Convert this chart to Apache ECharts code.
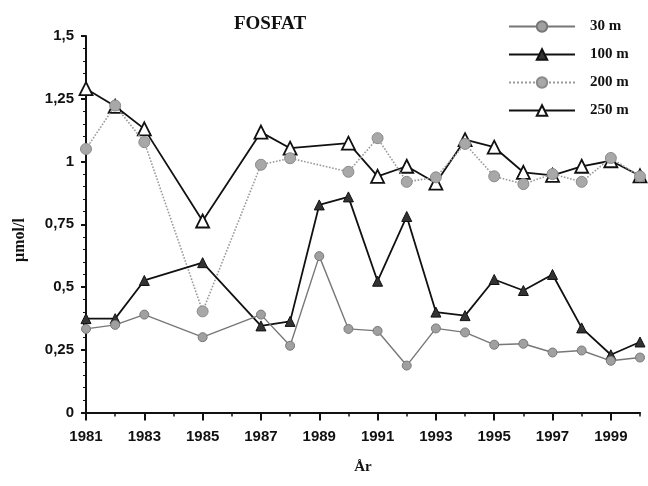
<!DOCTYPE html>
<html><head><meta charset="utf-8">
<script src="https://cdn.jsdelivr.net/npm/echarts@6/dist/echarts.min.js"></script>
<style>html,body{margin:0;padding:0;background:#fff}#c{width:648px;height:486px}</style>
</head><body><div id="c"></div>
<script>
const years = ['1981','1982','1983','1984','1985','1986','1987','1988','1989','1990','1991','1992','1993','1994','1995','1996','1997','1998','1999','2000'];
const yTickLabels = {0:'0',0.25:'0,25',0.5:'0,5',0.75:'0,75',1:'1',1.25:'1,25',1.5:'1,5'};
const s30  = [0.333,0.349,0.39,null,0.30,null,0.39,0.266,0.623,0.333,0.325,0.187,0.335,0.319,0.27,0.274,0.239,0.247,0.206,0.219];
const s100 = [0.374,0.374,0.526,null,0.597,null,0.345,0.363,0.827,0.859,0.523,0.781,0.40,0.386,0.53,0.486,0.55,0.337,0.23,0.281];
const s200 = [1.05,1.223,1.077,null,0.403,null,0.987,1.013,null,0.959,1.093,0.919,0.937,1.07,0.941,0.91,0.95,0.919,1.014,0.941];
const s250 = [1.29,1.22,1.13,null,0.763,null,1.117,1.053,null,1.073,0.941,0.981,0.914,1.087,1.057,0.957,0.945,0.981,1.003,0.943];
const names = ['30 m','100 m','200 m','250 m'];

const chart = echarts.init(document.getElementById('c'));
const lblFont = {fontFamily:'Liberation Sans, Arial', fontWeight:'bold', fontSize:15, color:'#111'};
chart.setOption({
  animation:false,
  title:{text:'FOSFAT', left:265, top:10, textAlign:'center',
    textStyle:{fontFamily:'Liberation Serif, Times New Roman', fontWeight:'bold', fontSize:19, color:'#111'}},
  legend:{
    orient:'vertical', left:503, top:14, itemGap:13, itemWidth:66, itemHeight:13,
    data:names,
    textStyle:{fontFamily:'Liberation Serif, Times New Roman', fontWeight:'bold', fontSize:15, color:'#111', padding:[0,0,0,10]}
  },
  graphic:[{type:'text', x:20, y:240, rotation:Math.PI/2,
    style:{text:'µmol/l', fontFamily:'Liberation Serif, Times New Roman', fontWeight:'bold', fontSize:16, fill:'#111', align:'center', verticalAlign:'middle'}}],
  grid:{left:86, right:8, top:36, bottom:73.5, containLabel:false},
  xAxis:[{
    type:'category', data:years, boundaryGap:false,
    name:'År', nameLocation:'middle', nameGap:47,
    nameTextStyle:{fontFamily:'Liberation Serif, Times New Roman', fontWeight:'bold', fontSize:15, color:'#111'},
    axisLine:{lineStyle:{color:'#111', width:2}},
    axisTick:{interval:0, length:4, lineStyle:{color:'#111', width:1.5}},
    axisLabel:{interval:1, margin:17, ...lblFont},
    splitLine:{show:false}
  },{
    type:'category', data:years, boundaryGap:false, position:'bottom',
    axisLine:{show:false},
    axisTick:{interval:1, length:8, lineStyle:{color:'#111', width:2}},
    axisLabel:{show:false}, splitLine:{show:false}
  }],
  yAxis:{
    type:'value', min:0, max:1.5, interval:0.25,
    axisLine:{show:true, lineStyle:{color:'#111', width:2}},
    axisTick:{show:true, length:5, lineStyle:{color:'#111', width:2}},
    minorTick:{show:true, splitNumber:5, length:3, lineStyle:{color:'#111', width:1}},
    axisLabel:{margin:12, formatter:v=>yTickLabels[v] !== undefined ? yTickLabels[v] : '', ...lblFont},
    splitLine:{show:false}
  },
  series:[
    {name:'250 m', type:'line', data:s250, connectNulls:true, z:2,
      symbol:'triangle', symbolSize:13,
      lineStyle:{color:'#111', width:1.8},
      itemStyle:{color:'#fff', borderColor:'#111', borderWidth:1.8}},
    {name:'200 m', type:'line', data:s200, connectNulls:true, z:3,
      symbol:'circle', symbolSize:11,
      lineStyle:{color:'#9a9a9a', width:1.6, type:'dotted'},
      itemStyle:{color:'#a8a8a8', borderColor:'#8a8a8a', borderWidth:1}},
    {name:'100 m', type:'line', data:s100, connectNulls:true, z:4,
      symbol:'triangle', symbolSize:10,
      lineStyle:{color:'#111', width:1.8},
      itemStyle:{color:'#333', borderColor:'#111', borderWidth:1}},
    {name:'30 m', type:'line', data:s30, connectNulls:true, z:5,
      symbol:'circle', symbolSize:9,
      lineStyle:{color:'#777', width:1.4},
      itemStyle:{color:'#a0a0a0', borderColor:'#777', borderWidth:1}}
  ]
});
</script></body></html>
